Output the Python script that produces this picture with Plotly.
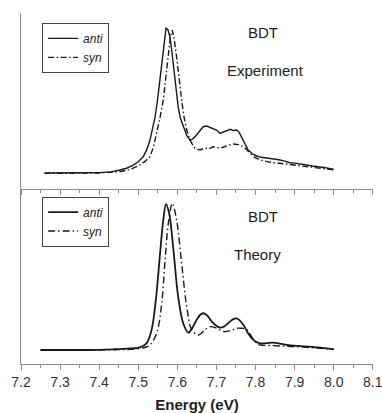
import plotly.graph_objects as go

# ---- Data ----
exp_anti_E = [7.26, 7.30, 7.35, 7.40, 7.43, 7.453, 7.47, 7.487, 7.50, 7.513, 7.522, 7.530, 7.537, 7.543, 7.549, 7.554,
              7.559, 7.564, 7.568, 7.571, 7.576, 7.581, 7.586, 7.590, 7.596, 7.602, 7.608, 7.615, 7.624, 7.632,
              7.640, 7.649, 7.657, 7.666, 7.675, 7.684, 7.692, 7.700, 7.709, 7.718, 7.726, 7.735, 7.743, 7.752,
              7.758, 7.764, 7.772, 7.781, 7.792, 7.803, 7.815, 7.830, 7.845, 7.860, 7.875, 7.888, 7.900, 7.915,
              7.931, 7.945, 7.960, 7.975, 7.988, 8.0]
exp_anti_I = [0.091, 0.090, 0.092, 0.093, 0.097, 0.108, 0.118, 0.136, 0.155, 0.184, 0.225, 0.278, 0.34, 0.41, 0.50, 0.60,
              0.71, 0.81, 0.88, 0.913, 0.905, 0.865, 0.78, 0.695, 0.58, 0.468, 0.40, 0.354, 0.305, 0.278,
              0.285, 0.307, 0.330, 0.354, 0.358, 0.350, 0.345, 0.335, 0.316, 0.325, 0.333, 0.339, 0.332, 0.335,
              0.322, 0.297, 0.262, 0.222, 0.200, 0.1875, 0.180, 0.176, 0.169, 0.166, 0.158, 0.149, 0.147, 0.140,
              0.136, 0.131, 0.128, 0.122, 0.117, 0.112]

exp_syn_E = [7.26, 7.30, 7.35, 7.40, 7.43, 7.453, 7.48, 7.504, 7.518, 7.530, 7.539, 7.547, 7.556, 7.564, 7.571, 7.577,
             7.582, 7.587, 7.592, 7.598, 7.604, 7.611, 7.617, 7.624, 7.634, 7.645, 7.658, 7.670, 7.680, 7.692,
             7.700, 7.709, 7.720, 7.732, 7.743, 7.756, 7.769, 7.778, 7.786, 7.798, 7.811, 7.835, 7.862, 7.895,
             7.931, 7.965, 8.0]
exp_syn_I = [0.089, 0.088, 0.090, 0.091, 0.094, 0.098, 0.112, 0.136, 0.158, 0.184, 0.24, 0.316, 0.41, 0.506, 0.64, 0.771,
             0.86, 0.903, 0.85, 0.752, 0.63, 0.506, 0.41, 0.335, 0.27, 0.231, 0.222, 0.232, 0.228, 0.240,
             0.236, 0.231, 0.240, 0.250, 0.256, 0.252, 0.240, 0.222, 0.203, 0.180, 0.165, 0.153, 0.146, 0.136,
             0.127, 0.118, 0.108]

th_anti_E = [7.25, 7.30, 7.35, 7.40, 7.436, 7.47, 7.504, 7.521, 7.534, 7.545, 7.555, 7.564, 7.571, 7.579, 7.590,
             7.602, 7.615, 7.628, 7.638, 7.649, 7.658, 7.666, 7.675, 7.692, 7.709, 7.720, 7.730, 7.742, 7.752,
             7.760, 7.769, 7.780, 7.790, 7.800, 7.811, 7.828, 7.845, 7.862, 7.880, 7.910, 7.939, 7.970, 8.0]
th_anti_I = [0.080, 0.080, 0.080, 0.081, 0.084, 0.088, 0.095, 0.118, 0.194, 0.366, 0.613, 0.823, 0.914, 0.861, 0.651,
             0.385, 0.233, 0.179, 0.205, 0.251, 0.280, 0.290, 0.280, 0.233, 0.208, 0.215, 0.233, 0.255, 0.261,
             0.248, 0.223, 0.180, 0.147, 0.128, 0.118, 0.119, 0.122, 0.117, 0.109, 0.103, 0.099, 0.092, 0.084]

th_syn_E = [7.25, 7.30, 7.35, 7.40, 7.45, 7.50, 7.52, 7.530, 7.547, 7.560, 7.568, 7.577, 7.587, 7.598, 7.611, 7.624,
            7.637, 7.653, 7.658, 7.670, 7.683, 7.700, 7.717, 7.735, 7.752, 7.765, 7.777, 7.790, 7.800, 7.811,
            7.835, 7.862, 7.895, 7.931, 7.965, 8.0]
th_syn_I = [0.080, 0.080, 0.080, 0.081, 0.082, 0.087, 0.097, 0.109, 0.175, 0.347, 0.575, 0.804, 0.918, 0.823, 0.575, 0.327,
            0.194, 0.166, 0.170, 0.194, 0.213, 0.205, 0.185, 0.190, 0.204, 0.204, 0.198, 0.156, 0.125, 0.109,
            0.106, 0.103, 0.099, 0.095, 0.090, 0.084]

x_ticks = [7.2, 7.3, 7.4, 7.5, 7.6, 7.7, 7.8, 7.9, 8.0, 8.1]
x_tick_labels = ["7.2", "7.3", "7.4", "7.5", "7.6", "7.7", "7.8", "7.9", "8.0", "8.1"]

AX = "#8a8a8a"
LINE = "#1a1a1a"
FONT = "Liberation Sans, Arial, sans-serif"
DASHDOT = "6px,2.5px,1.5px,2.5px"

fig = go.Figure()
fig.add_trace(go.Scatter(x=exp_anti_E, y=exp_anti_I, mode="lines", name="<i>anti</i>",
                         line=dict(color=LINE, width=1.4), xaxis="x", yaxis="y", legend="legend"))
fig.add_trace(go.Scatter(x=exp_syn_E, y=exp_syn_I, mode="lines", name="<i>syn</i>",
                         line=dict(color=LINE, width=1.4, dash=DASHDOT), xaxis="x", yaxis="y", legend="legend"))
fig.add_trace(go.Scatter(x=th_anti_E, y=th_anti_I, mode="lines", name="<i>anti</i>",
                         line=dict(color=LINE, width=1.8, shape="spline"), xaxis="x2", yaxis="y2", legend="legend2"))
fig.add_trace(go.Scatter(x=th_syn_E, y=th_syn_I, mode="lines", name="<i>syn</i>",
                         line=dict(color=LINE, width=1.4, dash="7px,3px,1.5px,3px", shape="spline"),
                         xaxis="x2", yaxis="y2", legend="legend2"))

split = 0.4986
xcommon = dict(range=[7.2, 8.1005], showline=True, linecolor=AX, linewidth=1.2, ticks="outside",
               ticklen=5, tickwidth=1.2, tickcolor=AX, tickvals=x_ticks, showgrid=False, zeroline=False,
               automargin=False,
               minor=dict(dtick=0.05, tick0=7.2, ticks="outside", ticklen=3, tickwidth=1, tickcolor=AX, showgrid=False))
ycommon = dict(range=[0, 1], showline=True, linecolor=AX, linewidth=1.2, ticks="", showticklabels=False,
               showgrid=False, zeroline=False, automargin=False)

legend_common = dict(bgcolor="white", bordercolor="#444", borderwidth=1, xanchor="left", yanchor="top",
                     font=dict(family=FONT, size=12, color="#222"), itemwidth=30, tracegroupgap=0,
                     entrywidth=40, entrywidthmode="pixels")

fig.update_layout(
    width=382, height=413, margin=dict(l=21, r=9, t=13, b=49, autoexpand=False),
    plot_bgcolor="white", paper_bgcolor="white",
    font=dict(family=FONT, color="#222"),
    xaxis=dict(xcommon, anchor="y", showticklabels=False),
    yaxis=dict(ycommon, domain=[split, 1]),
    xaxis2=dict(xcommon, anchor="y2", matches="x", ticktext=x_tick_labels, ticklabeloverflow="allow",
                tickfont=dict(family=FONT, size=14, color="#333"),
                title=dict(text="<b>Energy (eV)</b>", font=dict(family=FONT, size=15, color="#222"), standoff=14)),
    yaxis2=dict(ycommon, domain=[0, split]),
    legend=dict(legend_common, x=0.06, y=0.972),
    legend2=dict(legend_common, x=0.06, y=0.477),
    showlegend=True,
)

ann_font = dict(family=FONT, size=15, color="#222")
for txt, px, py in [("BDT", 263, 33), ("Experiment", 265, 70), ("BDT", 263, 217), ("Theory", 257, 255)]:
    fig.add_annotation(text=txt, xref="paper", yref="paper", x=(px - 21) / 352, y=(364 - py) / 351,
                       xanchor="center", yanchor="middle", showarrow=False, font=ann_font)

fig.write_html("out.html")
